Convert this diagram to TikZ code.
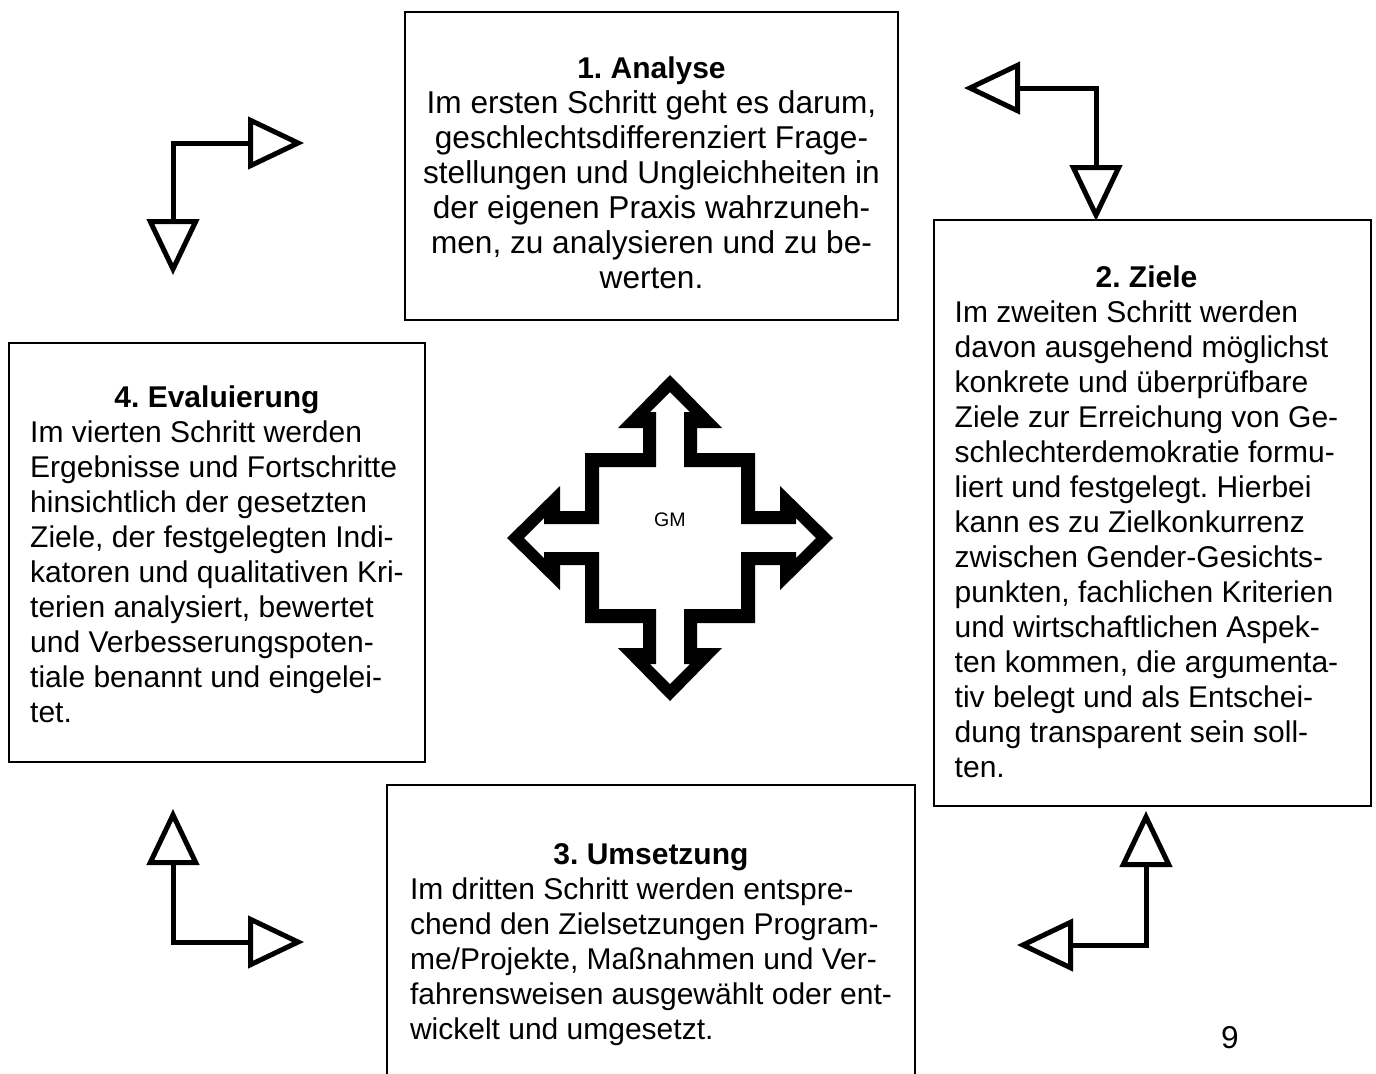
\documentclass[tikz,border=0pt]{standalone}
\usepackage{fontspec}
\setmainfont{Liberation Sans}
\usetikzlibrary{arrows.meta}
\frenchspacing
% move box text by (#1,#2) without changing the box size
\newcommand{\shiftbox}[3]{\raisebox{#2}[\height][\depth]{\hspace*{#1}#3\hspace*{-#1}}}

\begin{document}
\begin{tikzpicture}[x=0.5pt, y=-0.5pt]
\tikzset{
    stepbox/.style={rectangle, draw, line width=1pt, inner sep=0pt, font=\fontsize{15}{17.5}\selectfont},
    turn/.style={line width=2.5pt, >={Triangle[open, length=28pt, width=26pt]}, <->}
}
  \useasboundingbox (0,0) rectangle (1376,1073);

  \node[stepbox, minimum width=246.5pt, minimum height=154pt, font=\fontsize{15.8}{17.5}\selectfont] (analyse) at (651.5,166)
    {\shiftbox{0pt}{-5pt}{\begin{tabular}{@{}c@{}}{\fontsize{15}{17.5}\selectfont\textbf{1. Analyse}}\\
     Im ersten Schritt geht es darum,\\geschlechtsdifferenziert Frage-\\stellungen und Ungleichheiten in\\der eigenen Praxis wahrzuneh-\\men, zu analysieren und zu be-\\werten.\end{tabular}}};
  \node[stepbox, minimum width=218.5pt, minimum height=293pt] (ziele) at (1152.5,513)
    {\shiftbox{-3pt}{-6pt}{\begin{tabular}{@{}l@{}}\multicolumn{1}{@{}c@{}}{\textbf{2. Ziele}}\\
     Im zweiten Schritt werden\\davon ausgehend möglichst\\konkrete und überprüfbare\\Ziele zur Erreichung von Ge-\\schlechterdemokratie formu-\\liert und festgelegt. Hierbei\\kann es zu Zielkonkurrenz\\zwischen Gender-Gesichts-\\punkten, fachlichen Kriterien\\und wirtschaftlichen Aspek-\\ten kommen, die argumenta-\\tiv belegt und als Entschei-\\dung transparent sein soll-\\ten.\end{tabular}}};
  \node[stepbox, minimum width=264pt, minimum height=155pt] (umsetzung) at (651,940)
    {\shiftbox{0pt}{-2.5pt}{\begin{tabular}{@{}l@{}}\multicolumn{1}{@{}c@{}}{\textbf{3. Umsetzung}}\\
     Im dritten Schritt werden entspre-\\chend den Zielsetzungen Program-\\me/Projekte, Maßnahmen und Ver-\\fahrensweisen ausgewählt oder ent-\\wickelt und umgesetzt.\end{tabular}}};
  \node[stepbox, minimum width=208pt, minimum height=209.5pt] (evaluierung) at (217,552.5)
    {\shiftbox{0pt}{-2.5pt}{\begin{tabular}{@{}l@{}}\multicolumn{1}{@{}c@{}}{\textbf{4. Evaluierung}}\\
     Im vierten Schritt werden\\Ergebnisse und Fortschritte\\hinsichtlich der gesetzten\\Ziele, der festgelegten Indi-\\katoren und qualitativen Kri-\\terien analysiert, bewertet\\und Verbesserungspoten-\\tiale benannt und eingelei-\\tet.\end{tabular}}};

  % GM cross in the middle
  \coordinate (center) at (670,538);
  \begin{scope}[shift={(center)}]
    \fill[black, even odd rule]
      (0,-163) -- (52,-110) -- (27,-110) -- (27,-85) -- (85,-85) -- (85,-27) -- (110,-27) -- (110,-52)
      -- (163,0) -- (110,52) -- (110,27) -- (85,27) -- (85,85) -- (27,85) -- (27,110) -- (52,110)
      -- (0,163) -- (-52,110) -- (-27,110) -- (-27,85) -- (-85,85) -- (-85,27) -- (-110,27) -- (-110,52)
      -- (-163,0) -- (-110,-52) -- (-110,-27) -- (-85,-27) -- (-85,-85) -- (-27,-85) -- (-27,-110) -- (-52,-110) -- cycle
      (0,-146) -- (20,-126) -- (14,-126) -- (14,-71) -- (71,-71) -- (71,-14) -- (126,-14) -- (126,-20)
      -- (146,0) -- (126,20) -- (126,14) -- (71,14) -- (71,71) -- (14,71) -- (14,126) -- (20,126)
      -- (0,146) -- (-20,126) -- (-14,126) -- (-14,71) -- (-71,71) -- (-71,14) -- (-126,14) -- (-126,20)
      -- (-146,0) -- (-126,-20) -- (-126,-14) -- (-71,-14) -- (-71,-71) -- (-14,-71) -- (-14,-126) -- (-20,-126) -- cycle;
  \end{scope}
  \node[font=\fontsize{9.8}{11}\selectfont] (gm) at (670,520) {GM};

  % corner arrows
  \coordinate (tlA) at (173,275);
  \coordinate (tlB) at (304,143);
  \coordinate (trA) at (964,88);
  \coordinate (trB) at (1096,221);
  \coordinate (brA) at (1146,811);
  \coordinate (brB) at (1017,945);
  \coordinate (blA) at (173,809);
  \coordinate (blB) at (304,942);
  \draw[turn] (tlA) |- (tlB);
  \draw[turn] (trA) -| (trB);
  \draw[turn] (brA) |- (brB);
  \draw[turn] (blA) |- (blB);

  \node[font=\fontsize{15.8}{17.5}\selectfont] (page) at (1230,1038) {9};
\end{tikzpicture}
\end{document}
